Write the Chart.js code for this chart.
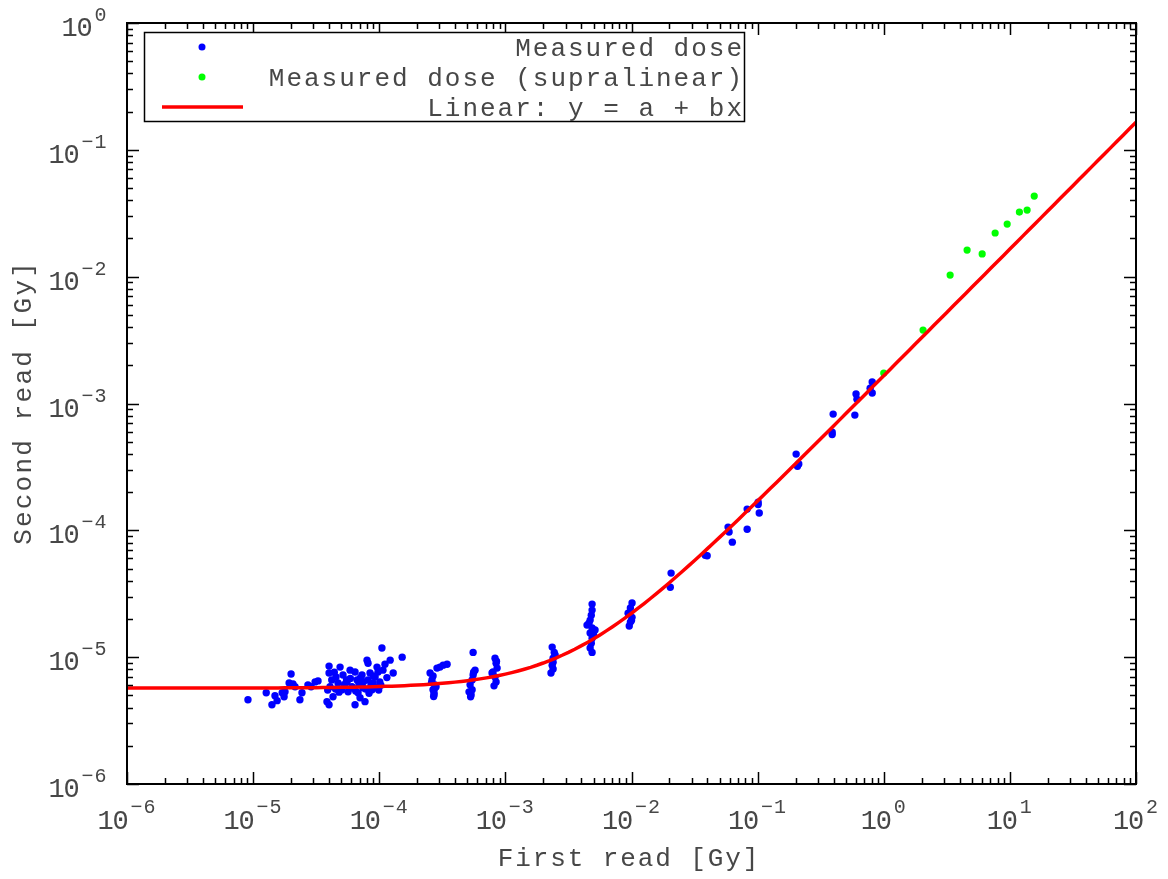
<!DOCTYPE html>
<html>
<head>
<meta charset="utf-8">
<script src="https://cdn.jsdelivr.net/npm/chart.js@4.4.1/dist/chart.umd.min.js"></script>
<style>
  body { margin: 0; background: #fff; }
</style>
</head>
<body>
<canvas id="myChart" width="1168" height="879"></canvas>
<script>
// measured dose, first read vs second read [Gy]
const blueX = [
  9.1e-6, 1.27e-5, 1.41e-5, 1.49e-5, 1.55e-5, 1.70e-5, 1.76e-5, 1.79e-5, 1.93e-5, 2.0e-5,
  2.07e-5, 2.15e-5, 2.35e-5, 2.44e-5, 2.72e-5, 2.88e-5, 3.1e-5, 3.27e-5, 3.85e-5, 4.0e-5,
  4.0e-5, 4.0e-5, 4.07e-5, 4.3e-5, 4.54e-5, 4.71e-5, 4.89e-5, 5.07e-5, 5.16e-5, 5.56e-5,
  5.66e-5, 5.87e-5, 6.08e-5, 6.43e-5, 6.43e-5, 6.67e-5, 6.79e-5, 7.04e-5, 7.3e-5, 7.43e-5,
  7.71e-5, 8.0e-5, 8.15e-5, 8.15e-5, 8.45e-5, 8.77e-5, 8.93e-5, 9.27e-5, 9.6e-5, 9.78e-5,
  1.01e-4, 1.05e-4, 1.11e-4, 1.22e-4, 1.29e-4, 1.52e-4,
  4.5e-5, 5.3e-5, 6.2e-5, 6.9e-5, 7.8e-5, 8.6e-5, 9.4e-5, 1.03e-4, 5.9e-5, 7.1e-5, 3.9e-5, 4.4e-5,
  4.2e-5, 4.8e-5, 5.5e-5, 6.5e-5, 7.5e-5, 8.3e-5, 9.0e-5, 9.9e-5, 1.07e-4, 1.15e-4,
  2.53e-4, 2.62e-4, 2.67e-4, 2.72e-4, 2.77e-4, 2.87e-4, 3.03e-4, 3.21e-4, 3.45e-4, 2.67e-4,
  2.72e-4, 2.82e-4, 2.6e-4, 2.75e-4, 2.7e-4,
  5.55e-4, 5.75e-4, 5.55e-4, 5.45e-4, 5.25e-4, 5.45e-4, 5.35e-4, 5.15e-4, 5.6e-4, 5.3e-4,
  8.28e-4, 8.44e-4, 8.6e-4, 7.98e-4, 8.28e-4, 8.44e-4, 8.13e-4, 7.84e-4, 8.5e-4,
  2.35e-3, 2.44e-3, 2.48e-3, 2.39e-3, 2.39e-3, 2.35e-3, 2.39e-3, 2.30e-3,
  4.87e-3, 4.87e-3, 4.8e-3, 4.7e-3, 4.44e-3, 4.87e-3, 5.14e-3, 4.7e-3, 4.87e-3, 4.8e-3,
  4.7e-3, 4.87e-3, 4.6e-3, 5.0e-3,
  1.01e-2, 9.8e-3, 9.4e-3, 1.01e-2, 9.8e-3, 9.6e-3, 1.0e-2,
  0.0206, 0.0203, 0.0384, 0.0398, 0.0583, 0.0594, 0.0630, 0.0826, 0.0826, 0.101,
  0.101, 0.103, 0.202, 0.212, 0.207, 0.397, 0.39, 0.39, 0.603, 0.613,
  0.59, 0.81, 0.81, 0.78
];
const blueY = [
  4.62e-6, 5.24e-6, 4.22e-6, 4.96e-6, 4.54e-6, 5.24e-6, 4.87e-6, 5.33e-6, 6.27e-6, 7.36e-6,
  6.16e-6, 5.84e-6, 4.62e-6, 5.24e-6, 6.05e-6, 5.84e-6, 6.38e-6, 6.5e-6, 4.46e-6, 4.22e-6,
  8.5e-6, 7.5e-6, 5.84e-6, 4.87e-6, 6.97e-6, 6.27e-6, 8.35e-6, 5.53e-6, 7.23e-6, 6.38e-6,
  5.33e-6, 7.9e-6, 5.84e-6, 4.22e-6, 7.63e-6, 6.6e-6, 5.24e-6, 4.79e-6, 7.23e-6, 5.73e-6,
  4.46e-6, 9.47e-6, 8.96e-6, 6.6e-6, 7.5e-6, 5.53e-6, 6.27e-6, 6.97e-6, 8.35e-6, 7.63e-6,
  6.38e-6, 1.18e-5, 8.8e-6, 9.47e-6, 7.5e-6, 1.0e-5,
  5.6e-6, 6.1e-6, 5.7e-6, 6.2e-6, 5.6e-6, 6.0e-6, 5.8e-6, 6.0e-6, 6.8e-6, 6.9e-6, 5.5e-6, 7.6e-6,
  6.6e-6, 5.3e-6, 6.6e-6, 5.4e-6, 6.4e-6, 5.2e-6, 7.1e-6, 5.5e-6, 7.9e-6, 6.9e-6,
  7.5e-6, 6.6e-6, 5.53e-6, 5.05e-6, 6.05e-6, 8.2e-6, 8.35e-6, 8.65e-6, 8.8e-6, 7.1e-6,
  5.24e-6, 5.84e-6, 6.3e-6, 5.7e-6, 4.9e-6,
  1.09e-5, 7.9e-6, 7.23e-6, 6.6e-6, 6.05e-6, 5.53e-6, 5.05e-6, 5.33e-6, 7.6e-6, 4.87e-6,
  9.8e-6, 8.96e-6, 8.2e-6, 7.63e-6, 6.97e-6, 6.38e-6, 5.94e-6, 7.5e-6, 9.3e-6,
  1.20e-5, 1.09e-5, 1.04e-5, 9.8e-6, 9.1e-6, 8.65e-6, 8.06e-6, 7.5e-6,
  2.62e-5, 2.35e-5, 2.14e-5, 1.96e-5, 1.79e-5, 1.70e-5, 1.64e-5, 1.55e-5, 1.41e-5, 1.29e-5,
  1.18e-5, 1.09e-5, 1.85e-5, 1.5e-5,
  2.67e-5, 2.44e-5, 2.22e-5, 2.06e-5, 1.89e-5, 1.76e-5, 1.95e-5,
  4.6e-5, 3.56e-5, 6.37e-5, 6.3e-5, 1.06e-4, 9.7e-5, 8.07e-5, 1.47e-4, 1.02e-4, 1.67e-4,
  1.6e-4, 1.37e-4, 3.99e-4, 3.33e-4, 3.2e-4, 8.25e-4, 5.95e-4, 5.7e-4, 1.19e-3, 1.08e-3,
  8.1e-4, 1.48e-3, 1.21e-3, 1.32e-3
];
// supralinear points
const greenX = [1.0, 2.05, 3.36, 4.58, 6.03, 7.64, 9.52, 11.9, 13.7, 15.6];
const greenY = [1.74e-3, 3.79e-3, 1.03e-2, 1.62e-2, 1.51e-2, 2.21e-2, 2.60e-2, 3.23e-2, 3.35e-2, 4.32e-2];

// fit y = a + b x
const fitA = 5.7e-6;
const fitB = 1.65e-3;

const xDecades = [-6, -5, -4, -3, -2, -1, 0, 1, 2];
const yDecades = [-6, -5, -4, -3, -2, -1, 0];
const legendLabels = ["Measured dose", "Measured dose (supralinear)", "Linear: y = a + bx"];

const bluePts = blueX.map((x, i) => ({x: x, y: blueY[i]}));
const greenPts = greenX.map((x, i) => ({x: x, y: greenY[i]}));
const fitPts = [];
for (let e = -6; e <= 2.0001; e += 0.05) {
    const x = Math.pow(10, e);
    fitPts.push({x: x, y: fitA + fitB * x});
}

const FONT = '"Liberation Mono", "Courier New", monospace';
const TXT = '#474747';

// monospaced text with a fixed advance per char
function mono(ctx, str, x, y, size, adv) {
    ctx.font = size + 'px ' + FONT;
    ctx.textAlign = 'center';
    for (let i = 0; i < str.length; i++) {
        ctx.fillText(str[i], x + adv * (i + 0.5), y);
    }
}

const frame = {
    id: 'frame',
    afterDraw(chart) {
        const ctx = chart.ctx;
        const a = chart.chartArea;
        const xs = chart.scales.x, ys = chart.scales.y;
        ctx.save();
        ctx.strokeStyle = '#000';
        ctx.lineWidth = 1.5;
        ctx.beginPath();
        // ticks, inward on all four sides
        xDecades.forEach(k => {
            for (let m = 1; m <= 9; m++) {
                if (k === 2 && m > 1) break;
                const px = Math.round(xs.getPixelForValue(m * Math.pow(10, k))) + 0.5;
                const len = m === 1 ? 12 : 6;
                ctx.moveTo(px, a.bottom); ctx.lineTo(px, a.bottom - len);
                ctx.moveTo(px, a.top); ctx.lineTo(px, a.top + len);
            }
        });
        yDecades.forEach(k => {
            for (let m = 1; m <= 9; m++) {
                if (k === 0 && m > 1) break;
                const py = Math.round(ys.getPixelForValue(m * Math.pow(10, k))) + 0.5;
                const len = m === 1 ? 12 : 6;
                ctx.moveTo(a.left, py); ctx.lineTo(a.left + len, py);
                ctx.moveTo(a.right, py); ctx.lineTo(a.right - len, py);
            }
        });
        ctx.stroke();
        ctx.lineWidth = 2;
        ctx.strokeRect(a.left, a.top, a.right - a.left, a.bottom - a.top);

        // tick labels
        ctx.fillStyle = TXT;
        ctx.textBaseline = 'alphabetic';
        xDecades.forEach(k => {
            const px = xs.getPixelForValue(Math.pow(10, k));
            const ex = String(k).replace('-', '\u2212');
            const w = 2 * 15 + 2 + ex.length * 13;
            const x0 = px - w / 2;
            mono(ctx, '10', x0, 829, 27, 15);
            mono(ctx, ex, x0 + 32, 813, 20, 13);
        });
        yDecades.forEach(k => {
            const py = ys.getPixelForValue(Math.pow(10, k));
            const ex = String(k).replace('-', '\u2212');
            const xe = 107 - ex.length * 13;
            mono(ctx, ex, xe, py - 2, 20, 13);
            mono(ctx, '10', xe - 2 - 30, py + 13, 27, 15);
        });

        // axis titles
        const xt = 'First read [Gy]';
        mono(ctx, xt, 628 - xt.length * 17.5 / 2, 866, 26, 17.5);
        const yt = 'Second read [Gy]';
        ctx.save();
        ctx.translate(31, (a.top + a.bottom) / 2);
        ctx.rotate(-Math.PI / 2);
        mono(ctx, yt, -yt.length * 17.8 / 2, 0, 26, 17.8);
        ctx.restore();

        // legend box
        ctx.fillStyle = '#fff';
        ctx.fillRect(144, 32, 600, 89);
        ctx.strokeStyle = '#000';
        ctx.lineWidth = 1.5;
        ctx.strokeRect(144.5, 32.5, 600, 89);
        const rows = [47, 77, 107];
        ctx.fillStyle = 'rgb(0,0,255)';
        ctx.beginPath(); ctx.arc(202, rows[0], 3.5, 0, Math.PI * 2); ctx.fill();
        ctx.fillStyle = 'rgb(0,255,0)';
        ctx.beginPath(); ctx.arc(202, rows[1], 3.5, 0, Math.PI * 2); ctx.fill();
        ctx.strokeStyle = 'rgb(255,0,0)';
        ctx.lineWidth = 3.5;
        ctx.beginPath(); ctx.moveTo(162, rows[2]); ctx.lineTo(243, rows[2]); ctx.stroke();
        ctx.fillStyle = TXT;
        legendLabels.forEach((t, i) => {
            mono(ctx, t, 743 - t.length * 17.6, rows[i] + 9, 26, 17.6);
        });
        ctx.restore();
    }
};

const ctx = document.getElementById('myChart').getContext('2d');
const myChart = new Chart(ctx, {
    type: 'scatter',
    data: {
        datasets: [
            {
                label: legendLabels[2],
                data: fitPts,
                showLine: true,
                borderColor: 'rgb(255,0,0)',
                borderWidth: 3.5,
                pointRadius: 0,
                order: 0,
            },
            {
                label: legendLabels[0],
                data: bluePts,
                backgroundColor: 'rgb(0,0,255)',
                borderWidth: 0,
                pointRadius: 3.7,
                order: 1,
            },
            {
                label: legendLabels[1],
                data: greenPts,
                backgroundColor: 'rgb(0,255,0)',
                borderWidth: 0,
                pointRadius: 3.6,
                order: 2,
            },
        ],
    },
    options: {
        responsive: false,
        animation: false,
        layout: {padding: {left: 127, right: 32, top: 23, bottom: 95}},
        plugins: {legend: {display: false}, tooltip: {enabled: false}},
        scales: {
            x: {type: 'logarithmic', min: 1e-6, max: 1e2, display: false},
            y: {type: 'logarithmic', min: 1e-6, max: 1, display: false},
        },
    },
    plugins: [frame],
});
</script>
</body>
</html>
